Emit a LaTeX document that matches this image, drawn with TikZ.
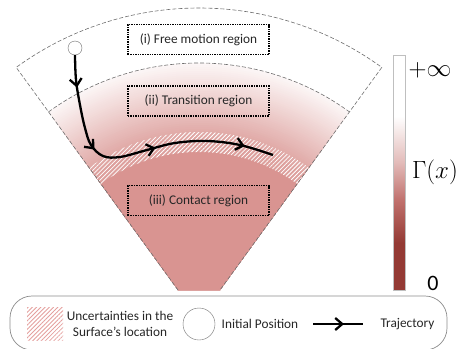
\documentclass[tikz,border=0pt]{standalone}
\usepackage[no-math]{fontspec}
\setmainfont{Carlito}
\usetikzlibrary{arrows.meta,decorations.markings,patterns.meta,positioning}

\definecolor{contactred}{RGB}{217,148,145}
\definecolor{bardark}{RGB}{148,58,52}
\definecolor{barmid}{RGB}{192,112,108}
\definecolor{barlight}{RGB}{226,186,184}
\definecolor{hatchpink}{RGB}{228,160,158}
\definecolor{edgegray}{RGB}{110,110,110}

% colour bar for Gamma(x), path is mapped onto 25bp--75bp
\pgfdeclareverticalshading{gammabar}{100bp}{color(0bp)=(bardark); color(35bp)=(bardark);
  color(44bp)=(barmid); color(52bp)=(barlight); color(62bp)=(white); color(100bp)=(white)}

\tikzset{
  trajtip/.tip={Straight Barb[length=7pt,width=12pt]},
  regionbox/.style={draw, line width=1.4pt, dash pattern=on 1.4pt off 1pt,
    minimum width=141pt, minimum height=30pt, inner sep=0pt,
    font=\fontsize{13.3}{15}\selectfont, text=black!85},
  fanedge/.style={edgegray, line width=0.6pt, dash pattern=on 4pt off 2pt},
  traj/.style={line width=2.3pt, postaction={decorate},
    decoration={markings,
      mark=at position 0.115 with {\arrow{trajtip}},
      mark=at position 0.345 with {\arrow{trajtip}},
      mark=at position 0.575 with {\arrow{trajtip}},
      mark=at position 0.895 with {\arrow{trajtip}}}},
  legtext/.style={font=\fontsize{13.3}{16}\selectfont, text=black!85},
  hatch/.style={pattern={Lines[angle=45,distance=3pt,line width=0.8pt]}},
}

\begin{document}
\begin{tikzpicture}[x=1pt,y=-1pt]
\useasboundingbox (0,0) rectangle (463,348);
\coordinate (C) at (199,319);
\coordinate (fanBL) at (178,290);
\coordinate (fanBR) at (220,290);

% Regions of the fan
\begin{scope}
  \clip (fanBL) -- ([shift={(-126:311)}]C) arc[start angle=-126,end angle=-54,radius=311]
    -- (fanBR) -- cycle;
  \foreach \r in {256,254,...,168} {
    \pgfmathsetmacro\p{min(90,8+(256-\r)*72/69)}
    \fill[contactred!\p!white] (C) circle[radius=\r];
  }
  \fill[contactred] (C) circle[radius=167];
  % uncertain surface
  \fill[hatch, pattern color=white, even odd rule]
    (C) circle[radius=187] (C) circle[radius=167];
\end{scope}
\draw[fanedge] (fanBL) -- ([shift={(-126:311)}]C)
  arc[start angle=-126,end angle=-54,radius=311] -- (fanBR);
\draw[fanedge] ([shift={(-126:256)}]C) arc[start angle=-126,end angle=-54,radius=256];

\node[regionbox] (free) at (198.5,39.5) {(i) Free motion region};
\node[regionbox] (trans) at (198.5,101) {(ii) Transition region};
\node[regionbox] (contact) at (198.5,200.5) {(iii) Contact region};

% Trajectory
\node[circle, draw=edgegray, fill=white, minimum size=14pt, inner sep=0pt] (init) at (75,48) {};
\coordinate (trajend) at (273,155);
\draw[traj] plot[smooth, tension=0.6] coordinates {(init.south) (76,80) (80,105) (85,128)
  (91,145) (103,156) (120,157) (147,150) (175,143) (207,141) (240,145) (trajend)};

% Colour bar
\node[draw=black!25, line width=0.5pt, shading=gammabar, minimum width=12pt,
  minimum height=235pt, inner sep=0pt] (gbar) at (399,172.5) {};
\node[font=\fontsize{24}{24}\selectfont, inner sep=0pt] (pinf) at (430,70) {$+\infty$};
\node[font=\fontsize{24}{24}\selectfont, inner sep=0pt] (gam) at (435,172) {$\Gamma(x)$};
\node[font=\fontsize{22}{22}\selectfont, inner sep=0pt] (zero) at (433,283) {0};

% Legend
\node[draw=edgegray!80, line width=0.7pt, rounded corners=22pt, minimum width=437pt,
  minimum height=54pt] (legend) at (228.5,323) {};
\node[hatch, pattern color=hatchpink, minimum width=36pt, minimum height=33pt,
  inner sep=0pt] (leghatch) at (45,323.5) {};
\node[legtext, align=center] (legunc) at (120,324) {Uncertainties in the\\Surface’s location};
\node[circle, draw=edgegray, minimum size=32pt, inner sep=0pt] (leginit) at (199,324) {};
\node[legtext, right=3pt of leginit] (legpos) {Initial Position};
\coordinate (arrA) at (313,324);
\coordinate[right=50pt of arrA] (arrB);
\draw[line width=2.3pt, postaction={decorate},
  decoration={markings, mark=at position 0.62 with {\arrow{trajtip}}}] (arrA) -- (arrB);
\node[legtext, anchor=west] (legtraj) at (377,324) {Trajectory};
\end{tikzpicture}
\end{document}
